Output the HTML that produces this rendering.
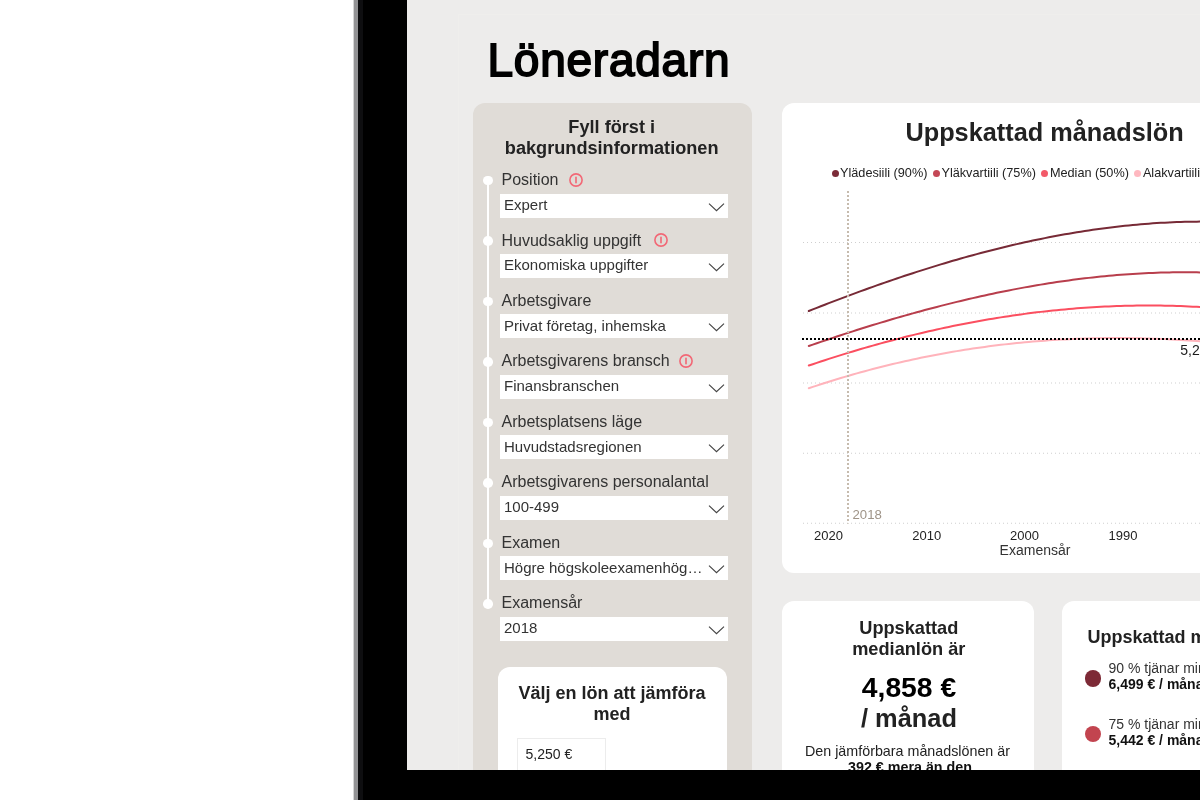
<!DOCTYPE html>
<html><head><meta charset="utf-8"><style>
html,body{margin:0;padding:0;width:1200px;height:800px;overflow:hidden;background:#fff;}
body{position:relative;font-family:"Liberation Sans",sans-serif;}
#screen{will-change:transform;}
.t{position:absolute;white-space:nowrap;}
</style></head><body>
<div style="position:absolute;left:353px;top:0;width:1px;height:800px;background:#d6d6d6"></div>
<div style="position:absolute;left:354px;top:0;width:4px;height:800px;background:#939395"></div>
<div style="position:absolute;left:358px;top:0;width:5px;height:800px;background:#0e0e10"></div>
<div style="position:absolute;left:363px;top:0;width:837px;height:800px;background:#000"></div>
<div id="screen" style="position:absolute;left:407px;top:0;width:793px;height:770px;background:#edeceb;overflow:hidden">
<div style="position:absolute;left:51px;top:14px;width:1000px;height:1000px;border-left:1px solid #efeeec;border-top:1px solid #efeeec"></div>
<div class="t" style="left:80.50px;top:36.56px;font-size:46px;line-height:46px;font-weight:400;color:#000;letter-spacing:0.75px;-webkit-text-stroke:1.8px #000;">Löneradarn</div>
<div style="position:absolute;left:66px;top:103px;width:279px;height:720px;background:#e0dcd7;border-radius:12px"></div>
<div class="t" style="left:69.70px;width:270px;text-align:center;top:118.04px;font-size:18.15px;line-height:18.15px;font-weight:700;color:#222;">Fyll först i</div>
<div class="t" style="left:69.70px;width:270px;text-align:center;top:139.14px;font-size:18.15px;line-height:18.15px;font-weight:700;color:#222;">bakgrundsinformationen</div>
<div style="position:absolute;left:80.30000000000001px;top:180px;width:1.6px;height:424px;background:#fff"></div>
<div style="position:absolute;left:76.19999999999999px;top:175.75px;width:9.5px;height:9.5px;border-radius:50%;background:#fff"></div>
<div class="t" style="left:94.50px;top:172.06px;font-size:16px;line-height:16px;font-weight:400;color:#333;white-space:nowrap;">Position</div>
<svg style="position:absolute;left:162.00px;top:172.90px" width="14" height="14" viewBox="0 0 14 14"><circle cx="7" cy="7" r="6.1" fill="none" stroke="#f26876" stroke-width="1.6"/><rect x="6.2" y="3.7" width="1.6" height="6.6" fill="#f26876"/></svg>
<div style="position:absolute;left:93.19999999999999px;top:193.50px;width:227.8px;height:24px;background:#fff"></div>
<div class="t" style="left:97.00px;top:196.70px;font-size:15px;line-height:15px;font-weight:400;color:#333;white-space:nowrap;">Expert</div>
<svg style="position:absolute;left:301px;top:202.50px" width="17" height="9" viewBox="0 0 17 9"><path d="M1 0.7 L8.5 7.6 L16 0.7" fill="none" stroke="#444" stroke-width="1.15"/></svg>
<div style="position:absolute;left:76.19999999999999px;top:236.22px;width:9.5px;height:9.5px;border-radius:50%;background:#fff"></div>
<div class="t" style="left:94.50px;top:232.53px;font-size:16px;line-height:16px;font-weight:400;color:#333;white-space:nowrap;">Huvudsaklig uppgift</div>
<svg style="position:absolute;left:246.75px;top:233.37px" width="14" height="14" viewBox="0 0 14 14"><circle cx="7" cy="7" r="6.1" fill="none" stroke="#f26876" stroke-width="1.6"/><rect x="6.2" y="3.7" width="1.6" height="6.6" fill="#f26876"/></svg>
<div style="position:absolute;left:93.19999999999999px;top:253.97px;width:227.8px;height:24px;background:#fff"></div>
<div class="t" style="left:97.00px;top:257.17px;font-size:15px;line-height:15px;font-weight:400;color:#333;white-space:nowrap;">Ekonomiska uppgifter</div>
<svg style="position:absolute;left:301px;top:262.97px" width="17" height="9" viewBox="0 0 17 9"><path d="M1 0.7 L8.5 7.6 L16 0.7" fill="none" stroke="#444" stroke-width="1.15"/></svg>
<div style="position:absolute;left:76.19999999999999px;top:296.69px;width:9.5px;height:9.5px;border-radius:50%;background:#fff"></div>
<div class="t" style="left:94.50px;top:293.00px;font-size:16px;line-height:16px;font-weight:400;color:#333;white-space:nowrap;">Arbetsgivare</div>
<div style="position:absolute;left:93.19999999999999px;top:314.44px;width:227.8px;height:24px;background:#fff"></div>
<div class="t" style="left:97.00px;top:317.64px;font-size:15px;line-height:15px;font-weight:400;color:#333;white-space:nowrap;">Privat företag, inhemska</div>
<svg style="position:absolute;left:301px;top:323.44px" width="17" height="9" viewBox="0 0 17 9"><path d="M1 0.7 L8.5 7.6 L16 0.7" fill="none" stroke="#444" stroke-width="1.15"/></svg>
<div style="position:absolute;left:76.19999999999999px;top:357.16px;width:9.5px;height:9.5px;border-radius:50%;background:#fff"></div>
<div class="t" style="left:94.50px;top:353.47px;font-size:16px;line-height:16px;font-weight:400;color:#333;white-space:nowrap;">Arbetsgivarens bransch</div>
<svg style="position:absolute;left:272.20px;top:354.31px" width="14" height="14" viewBox="0 0 14 14"><circle cx="7" cy="7" r="6.1" fill="none" stroke="#f26876" stroke-width="1.6"/><rect x="6.2" y="3.7" width="1.6" height="6.6" fill="#f26876"/></svg>
<div style="position:absolute;left:93.19999999999999px;top:374.91px;width:227.8px;height:24px;background:#fff"></div>
<div class="t" style="left:97.00px;top:378.11px;font-size:15px;line-height:15px;font-weight:400;color:#333;white-space:nowrap;">Finansbranschen</div>
<svg style="position:absolute;left:301px;top:383.91px" width="17" height="9" viewBox="0 0 17 9"><path d="M1 0.7 L8.5 7.6 L16 0.7" fill="none" stroke="#444" stroke-width="1.15"/></svg>
<div style="position:absolute;left:76.19999999999999px;top:417.63px;width:9.5px;height:9.5px;border-radius:50%;background:#fff"></div>
<div class="t" style="left:94.50px;top:413.94px;font-size:16px;line-height:16px;font-weight:400;color:#333;white-space:nowrap;">Arbetsplatsens läge</div>
<div style="position:absolute;left:93.19999999999999px;top:435.38px;width:227.8px;height:24px;background:#fff"></div>
<div class="t" style="left:97.00px;top:438.58px;font-size:15px;line-height:15px;font-weight:400;color:#333;white-space:nowrap;">Huvudstadsregionen</div>
<svg style="position:absolute;left:301px;top:444.38px" width="17" height="9" viewBox="0 0 17 9"><path d="M1 0.7 L8.5 7.6 L16 0.7" fill="none" stroke="#444" stroke-width="1.15"/></svg>
<div style="position:absolute;left:76.19999999999999px;top:478.10px;width:9.5px;height:9.5px;border-radius:50%;background:#fff"></div>
<div class="t" style="left:94.50px;top:474.41px;font-size:16px;line-height:16px;font-weight:400;color:#333;white-space:nowrap;">Arbetsgivarens personalantal</div>
<div style="position:absolute;left:93.19999999999999px;top:495.85px;width:227.8px;height:24px;background:#fff"></div>
<div class="t" style="left:97.00px;top:499.05px;font-size:15px;line-height:15px;font-weight:400;color:#333;white-space:nowrap;">100-499</div>
<svg style="position:absolute;left:301px;top:504.85px" width="17" height="9" viewBox="0 0 17 9"><path d="M1 0.7 L8.5 7.6 L16 0.7" fill="none" stroke="#444" stroke-width="1.15"/></svg>
<div style="position:absolute;left:76.19999999999999px;top:538.57px;width:9.5px;height:9.5px;border-radius:50%;background:#fff"></div>
<div class="t" style="left:94.50px;top:534.88px;font-size:16px;line-height:16px;font-weight:400;color:#333;white-space:nowrap;">Examen</div>
<div style="position:absolute;left:93.19999999999999px;top:556.32px;width:227.8px;height:24px;background:#fff"></div>
<div class="t" style="left:97.00px;top:559.52px;font-size:15px;line-height:15px;font-weight:400;color:#333;white-space:nowrap;">Högre högskoleexamenhög…</div>
<svg style="position:absolute;left:301px;top:565.32px" width="17" height="9" viewBox="0 0 17 9"><path d="M1 0.7 L8.5 7.6 L16 0.7" fill="none" stroke="#444" stroke-width="1.15"/></svg>
<div style="position:absolute;left:76.19999999999999px;top:599.04px;width:9.5px;height:9.5px;border-radius:50%;background:#fff"></div>
<div class="t" style="left:94.50px;top:595.35px;font-size:16px;line-height:16px;font-weight:400;color:#333;white-space:nowrap;">Examensår</div>
<div style="position:absolute;left:93.19999999999999px;top:616.79px;width:227.8px;height:24px;background:#fff"></div>
<div class="t" style="left:97.00px;top:619.99px;font-size:15px;line-height:15px;font-weight:400;color:#333;white-space:nowrap;">2018</div>
<svg style="position:absolute;left:301px;top:625.79px" width="17" height="9" viewBox="0 0 17 9"><path d="M1 0.7 L8.5 7.6 L16 0.7" fill="none" stroke="#444" stroke-width="1.15"/></svg>
<div style="position:absolute;left:90.5px;top:667px;width:229.5px;height:200px;background:#fff;border-radius:12px"></div>
<div class="t" style="left:91.00px;width:228px;text-align:center;top:684.26px;font-size:18px;line-height:18px;font-weight:700;color:#222;">Välj en lön att jämföra</div>
<div class="t" style="left:91.00px;width:228px;text-align:center;top:705.26px;font-size:18px;line-height:18px;font-weight:700;color:#222;">med</div>
<div style="position:absolute;left:110px;top:738px;width:89px;height:40px;background:#fff;border:1px solid #ececec;box-sizing:border-box"></div>
<div class="t" style="left:118.50px;top:746.65px;font-size:14px;line-height:14px;font-weight:400;color:#222;">5,250 €</div>
<div style="position:absolute;left:374.70000000000005px;top:102.5px;width:530px;height:470.7px;background:#fff;border-radius:12px"></div>
<div class="t" style="left:437.60px;width:400px;text-align:center;top:120.08px;font-size:25.3px;line-height:25.3px;font-weight:700;color:#222;">Uppskattad månadslön</div>
<div class="t" style="left:424.5px;top:166.75px;font-size:12.7px;line-height:12.7px;color:#222;white-space:nowrap"><span style="display:inline-block;width:7px;height:7px;border-radius:50%;background:#7b2b38;margin-right:1.5px;vertical-align:0px"></span>Ylädesiili (90%)<span style="display:inline-block;width:5.5px"></span><span style="display:inline-block;width:7px;height:7px;border-radius:50%;background:#c44856;margin-right:1.5px;vertical-align:0px"></span>Yläkvartiili (75%)<span style="display:inline-block;width:5.5px"></span><span style="display:inline-block;width:7px;height:7px;border-radius:50%;background:#f25a69;margin-right:1.5px;vertical-align:0px"></span>Median (50%)<span style="display:inline-block;width:5.5px"></span><span style="display:inline-block;width:7px;height:7px;border-radius:50%;background:#ffb8c0;margin-right:1.5px;vertical-align:0px"></span>Alakvartiili (25%)<span style="display:inline-block;width:5.5px"></span></div>
<svg style="position:absolute;left:0;top:0" width="793" height="770"><line x1="396" y1="242.5" x2="803" y2="242.5" stroke="#cfcfcf" stroke-width="1" stroke-dasharray="1 3"/><line x1="396" y1="313" x2="803" y2="313" stroke="#cfcfcf" stroke-width="1" stroke-dasharray="1 3"/><line x1="396" y1="383" x2="803" y2="383" stroke="#cfcfcf" stroke-width="1" stroke-dasharray="1 3"/><line x1="396" y1="453.25" x2="803" y2="453.25" stroke="#cfcfcf" stroke-width="1" stroke-dasharray="1 3"/><line x1="396" y1="523.25" x2="803" y2="523.25" stroke="#cfcfcf" stroke-width="1" stroke-dasharray="1 3"/><polyline points="401.8,388.26 405.8,386.92 409.8,385.59 413.8,384.29 417.8,383.00 421.8,381.74 425.8,380.49 429.8,379.26 433.8,378.05 437.8,376.87 441.8,375.70 445.8,374.54 449.8,373.41 453.8,372.30 457.8,371.20 461.8,370.13 465.8,369.07 469.8,368.03 473.8,367.01 477.8,366.01 481.8,365.03 485.8,364.07 489.8,363.12 493.8,362.20 497.8,361.29 501.8,360.40 505.8,359.52 509.8,358.67 513.8,357.83 517.8,357.02 521.8,356.22 525.8,355.44 529.8,354.67 533.8,353.93 537.8,353.20 541.8,352.49 545.8,351.80 549.8,351.12 553.8,350.46 557.8,349.82 561.8,349.20 565.8,348.60 569.8,348.01 573.8,347.44 577.8,346.89 581.8,346.35 585.8,345.83 589.8,345.33 593.8,344.85 597.8,344.38 601.8,343.93 605.8,343.50 609.8,343.08 613.8,342.68 617.8,342.30 621.8,341.94 625.8,341.59 629.8,341.26 633.8,340.94 637.8,340.64 641.8,340.36 645.8,340.09 649.8,339.84 653.8,339.61 657.8,339.39 661.8,339.19 665.8,339.01 669.8,338.84 673.8,338.69 677.8,338.55 681.8,338.43 685.8,338.33 689.8,338.24 693.8,338.16 697.8,338.11 701.8,338.07 705.8,338.04 709.8,338.03 713.8,338.04 717.8,338.06 721.8,338.09 725.8,338.15 729.8,338.21 733.8,338.30 737.8,338.39 741.8,338.51 745.8,338.64 749.8,338.78 753.8,338.94 757.8,339.11 761.8,339.30 765.8,339.50 769.8,339.72 773.8,339.95 777.8,340.20 781.8,340.46 785.8,340.74 789.8,341.03 793.8,341.34" fill="none" stroke="#ffb3bb" stroke-width="2" stroke-linecap="round"/><polyline points="401.8,365.53 405.8,364.18 409.8,362.84 413.8,361.52 417.8,360.21 421.8,358.91 425.8,357.63 429.8,356.37 433.8,355.11 437.8,353.88 441.8,352.65 445.8,351.45 449.8,350.25 453.8,349.07 457.8,347.91 461.8,346.76 465.8,345.62 469.8,344.50 473.8,343.40 477.8,342.31 481.8,341.23 485.8,340.17 489.8,339.13 493.8,338.10 497.8,337.08 501.8,336.08 505.8,335.10 509.8,334.13 513.8,333.17 517.8,332.23 521.8,331.31 525.8,330.40 529.8,329.51 533.8,328.63 537.8,327.77 541.8,326.92 545.8,326.09 549.8,325.28 553.8,324.48 557.8,323.70 561.8,322.93 565.8,322.18 569.8,321.44 573.8,320.73 577.8,320.02 581.8,319.33 585.8,318.66 589.8,318.01 593.8,317.37 597.8,316.75 601.8,316.14 605.8,315.55 609.8,314.98 613.8,314.42 617.8,313.88 621.8,313.36 625.8,312.85 629.8,312.36 633.8,311.88 637.8,311.42 641.8,310.98 645.8,310.56 649.8,310.15 653.8,309.76 657.8,309.39 661.8,309.03 665.8,308.69 669.8,308.37 673.8,308.06 677.8,307.78 681.8,307.50 685.8,307.25 689.8,307.01 693.8,306.79 697.8,306.59 701.8,306.41 705.8,306.24 709.8,306.09 713.8,305.96 717.8,305.84 721.8,305.75 725.8,305.67 729.8,305.61 733.8,305.56 737.8,305.54 741.8,305.53 745.8,305.54 749.8,305.56 753.8,305.61 757.8,305.67 761.8,305.76 765.8,305.85 769.8,305.97 773.8,306.11 777.8,306.26 781.8,306.44 785.8,306.63 789.8,306.84 793.8,307.06" fill="none" stroke="#fb4f60" stroke-width="2" stroke-linecap="round"/><polyline points="401.8,346.00 405.8,344.62 409.8,343.25 413.8,341.89 417.8,340.54 421.8,339.20 425.8,337.87 429.8,336.54 433.8,335.23 437.8,333.92 441.8,332.63 445.8,331.35 449.8,330.07 453.8,328.81 457.8,327.55 461.8,326.31 465.8,325.08 469.8,323.86 473.8,322.65 477.8,321.45 481.8,320.26 485.8,319.08 489.8,317.91 493.8,316.76 497.8,315.62 501.8,314.49 505.8,313.37 509.8,312.26 513.8,311.17 517.8,310.08 521.8,309.01 525.8,307.96 529.8,306.91 533.8,305.88 537.8,304.86 541.8,303.85 545.8,302.86 549.8,301.88 553.8,300.91 557.8,299.96 561.8,299.02 565.8,298.10 569.8,297.19 573.8,296.29 577.8,295.41 581.8,294.54 585.8,293.69 589.8,292.85 593.8,292.02 597.8,291.21 601.8,290.42 605.8,289.64 609.8,288.87 613.8,288.13 617.8,287.39 621.8,286.67 625.8,285.97 629.8,285.29 633.8,284.62 637.8,283.96 641.8,283.33 645.8,282.70 649.8,282.10 653.8,281.51 657.8,280.94 661.8,280.39 665.8,279.85 669.8,279.33 673.8,278.83 677.8,278.34 681.8,277.88 685.8,277.43 689.8,276.99 693.8,276.58 697.8,276.18 701.8,275.81 705.8,275.45 709.8,275.11 713.8,274.78 717.8,274.48 721.8,274.20 725.8,273.93 729.8,273.68 733.8,273.46 737.8,273.25 741.8,273.06 745.8,272.89 749.8,272.74 753.8,272.61 757.8,272.50 761.8,272.42 765.8,272.35 769.8,272.30 773.8,272.27 777.8,272.26 781.8,272.28 785.8,272.31 789.8,272.37 793.8,272.44" fill="none" stroke="#b83e4c" stroke-width="2" stroke-linecap="round"/><polyline points="401.8,311.01 405.8,309.42 409.8,307.84 413.8,306.27 417.8,304.71 421.8,303.16 425.8,301.63 429.8,300.10 433.8,298.58 437.8,297.07 441.8,295.57 445.8,294.09 449.8,292.61 453.8,291.15 457.8,289.69 461.8,288.25 465.8,286.82 469.8,285.40 473.8,283.99 477.8,282.60 481.8,281.22 485.8,279.84 489.8,278.49 493.8,277.14 497.8,275.81 501.8,274.49 505.8,273.18 509.8,271.88 513.8,270.60 517.8,269.33 521.8,268.08 525.8,266.83 529.8,265.61 533.8,264.39 537.8,263.19 541.8,262.00 545.8,260.83 549.8,259.67 553.8,258.53 557.8,257.40 561.8,256.29 565.8,255.19 569.8,254.11 573.8,253.04 577.8,251.98 581.8,250.95 585.8,249.92 589.8,248.92 593.8,247.93 597.8,246.95 601.8,245.99 605.8,245.05 609.8,244.12 613.8,243.21 617.8,242.32 621.8,241.44 625.8,240.59 629.8,239.74 633.8,238.92 637.8,238.11 641.8,237.32 645.8,236.55 649.8,235.79 653.8,235.06 657.8,234.34 661.8,233.64 665.8,232.96 669.8,232.29 673.8,231.65 677.8,231.02 681.8,230.41 685.8,229.82 689.8,229.25 693.8,228.70 697.8,228.17 701.8,227.66 705.8,227.17 709.8,226.70 713.8,226.25 717.8,225.81 721.8,225.40 725.8,225.01 729.8,224.64 733.8,224.29 737.8,223.96 741.8,223.65 745.8,223.37 749.8,223.10 753.8,222.85 757.8,222.63 761.8,222.43 765.8,222.25 769.8,222.09 773.8,221.95 777.8,221.84 781.8,221.75 785.8,221.68 789.8,221.63 793.8,221.61" fill="none" stroke="#772a36" stroke-width="2" stroke-linecap="round"/><line x1="441" y1="191" x2="441" y2="523.5" stroke="#c6bbae" stroke-width="2" stroke-dasharray="2 2"/><line x1="395" y1="339" x2="803" y2="339" stroke="#000" stroke-width="2" stroke-dasharray="2 2"/></svg>
<div class="t" style="left:445.50px;top:507.63px;font-size:13.2px;line-height:13.2px;font-weight:400;color:#9f9488;">2018</div>
<div class="t" style="left:391.50px;width:60px;text-align:center;top:529.00px;font-size:13px;line-height:13px;font-weight:400;color:#222;">2020</div>
<div class="t" style="left:489.75px;width:60px;text-align:center;top:529.00px;font-size:13px;line-height:13px;font-weight:400;color:#222;">2010</div>
<div class="t" style="left:587.50px;width:60px;text-align:center;top:529.00px;font-size:13px;line-height:13px;font-weight:400;color:#222;">2000</div>
<div class="t" style="left:686.00px;width:60px;text-align:center;top:529.00px;font-size:13px;line-height:13px;font-weight:400;color:#222;">1990</div>
<div class="t" style="left:568.00px;width:120px;text-align:center;top:543.15px;font-size:14px;line-height:14px;font-weight:400;color:#333;">Examensår</div>
<div class="t" style="left:773.30px;top:342.95px;font-size:14px;line-height:14px;font-weight:400;color:#1a1a1a;white-space:nowrap;">5,250 €</div>
<div style="position:absolute;left:374.6px;top:601px;width:252.4px;height:220px;background:#fff;border-radius:12px"></div>
<div class="t" style="left:381.80px;width:240px;text-align:center;top:619.09px;font-size:18.2px;line-height:18.2px;font-weight:700;color:#222;">Uppskattad</div>
<div class="t" style="left:381.80px;width:240px;text-align:center;top:639.89px;font-size:18.2px;line-height:18.2px;font-weight:700;color:#222;">medianlön är</div>
<div class="t" style="left:382.00px;width:240px;text-align:center;top:672.84px;font-size:28.3px;line-height:28.3px;font-weight:700;color:#000;">4,858 €</div>
<div class="t" style="left:382.00px;width:240px;text-align:center;top:705.70px;font-size:25.4px;line-height:25.4px;font-weight:700;color:#222;">/ månad</div>
<div class="t" style="left:380.50px;width:240px;text-align:center;top:743.50px;font-size:14.3px;line-height:14.3px;font-weight:400;color:#222;">Den jämförbara månadslönen är</div>
<div class="t" style="left:383.00px;width:240px;text-align:center;top:759.90px;font-size:14.3px;line-height:14.3px;font-weight:700;color:#111;">392 € mera än den</div>
<div style="position:absolute;left:654.5px;top:601px;width:300px;height:220px;background:#fff;border-radius:12px"></div>
<div class="t" style="left:680.50px;top:627.76px;font-size:18px;line-height:18px;font-weight:700;color:#222;white-space:nowrap;">Uppskattad månadslön</div>
<div style="position:absolute;left:678px;top:670.20px;width:16.4px;height:16.4px;border-radius:50%;background:#7d2a36"></div>
<div class="t" style="left:701.50px;top:661.25px;font-size:14px;line-height:14px;font-weight:400;color:#333;white-space:nowrap;">90 % tjänar mindre än</div>
<div class="t" style="left:701.50px;top:677.05px;font-size:14px;line-height:14px;font-weight:700;color:#111;white-space:nowrap;">6,499 € / månad</div>
<div style="position:absolute;left:678px;top:725.80px;width:16.4px;height:16.4px;border-radius:50%;background:#c2444f"></div>
<div class="t" style="left:701.50px;top:716.85px;font-size:14px;line-height:14px;font-weight:400;color:#333;white-space:nowrap;">75 % tjänar mindre än</div>
<div class="t" style="left:701.50px;top:732.65px;font-size:14px;line-height:14px;font-weight:700;color:#111;white-space:nowrap;">5,442 € / månad</div>
</div>

</body></html>
